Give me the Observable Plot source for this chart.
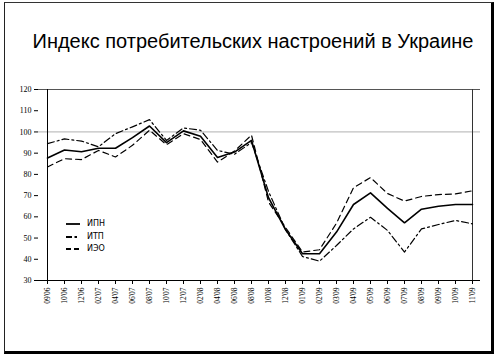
<!DOCTYPE html>
<html><head><meta charset="utf-8">
<script src="https://cdn.jsdelivr.net/npm/d3@7"></script>
<script src="https://cdn.jsdelivr.net/npm/@observablehq/plot@0.6"></script>
<style>
html,body{margin:0;padding:0;background:#fff;}
#wrap{position:relative;width:500px;height:359px;overflow:hidden;background:#fff;}
#frame{position:absolute;left:4px;top:2px;width:486px;height:348px;border-left:1.5px solid #222;border-top:1px solid #333;border-right:3px solid #000;border-bottom:3px solid #000;}
#title{position:absolute;left:0;width:506px;top:30px;text-align:center;font-family:"Liberation Sans",Arial,sans-serif;font-size:20px;color:#000;white-space:nowrap;}
#chart{position:absolute;left:0;top:0;}
#legend{position:absolute;left:66px;top:218px;font-family:"DejaVu Sans",sans-serif;font-size:8px;color:#000;line-height:12.6px;}
#legend div{display:flex;align-items:center;height:12.6px;}
#legend svg{margin-right:7px;}
</style>
</head><body>
<div id="wrap">
  <div id="frame"></div>
  <div id="chart"></div>
  <div id="title">Индекс потребительских настроений в Украине</div>
  <div id="legend"></div>
</div>
<script>
const labels = ["09'06","10'06","12'06","02'07","04'07","06'07","08'07","10'07","12'07","02'08","04'08","06'08","08'08","10'08","12'08","01'09","02'09","03'09","04'09","05'09","06'09","07'09","08'09","09'09","10'09","11'09"];
const ipn = [87.7,91.5,90.7,92.3,92.3,97.3,102.8,95,100.5,98,88,90.5,96,69,54,42.6,42.6,52.8,65.8,71.3,64,57.2,63.6,65,65.8,65.8];
const itp = [94.5,96.7,95.7,93,99.2,102.4,105.8,96,101.9,100.8,91.3,89.5,95,72,54,41.3,39.1,46.5,54.3,59.8,53.6,43.4,54.3,56.4,58.3,56.7];
const ieo = [83.5,87.4,87,91.3,88.2,93.7,100.8,94,99.2,96.4,85.8,91,98.5,67,55,43.4,44.5,57,73.7,78.5,71,67.4,69.6,70.5,70.8,72.3];
const yTicks = [30,40,50,60,70,80,90,100,110,120];
const seriesNames = ["ИПН","ИТП","ИЭО"];
const dashes = [null,"7,3,2,3","6,4"];
const widths = [1.6,1.2,1.2];

const rows = labels.map((t,i)=>({t, ipn:ipn[i], itp:itp[i], ieo:ieo[i]}));
const keys = ["ipn","itp","ieo"];

const chart = Plot.plot({
  width:500, height:359,
  marginLeft:38, marginRight:20, marginTop:89, marginBottom:79,
  x:{type:"point", domain:labels, padding:0},
  y:{domain:[30,120]},
  style:{background:"transparent", fontFamily:"Liberation Serif, Times New Roman, serif", fontSize:"8px", color:"#000"},
  marks:[
    Plot.ruleY([100],{stroke:"#c0c0c0", strokeWidth:1.2}),
    Plot.ruleY([120],{stroke:"#555"}),
    Plot.ruleX([labels[labels.length-1]],{stroke:"#333"}),
    Plot.axisY({ticks:yTicks, tickSize:4, tickPadding:3, fontSize:8, label:null}),
    Plot.axisX({tickSize:4, tickRotate:-90, tickPadding:3, fontSize:7.5, label:null}),
    Plot.ruleY([30],{stroke:"#000"}),
    Plot.ruleX([labels[0]],{stroke:"#000"}),
    ...keys.map((k,i)=>Plot.line(rows,{x:"t", y:k, stroke:"#000", strokeWidth:widths[i], strokeDasharray:dashes[i]}))
  ]
});
document.getElementById("chart").appendChild(chart);

const leg = document.getElementById("legend");
seriesNames.forEach((n,i)=>{
  const d = document.createElement("div");
  d.innerHTML = `<svg width="14" height="4"><line x1="0" y1="2" x2="14" y2="2" stroke="#000" stroke-width="1.8" ${dashes[i]?`stroke-dasharray="${i===1?'6,2.5,2.5,3':'5,3'}"`:''}/></svg><span>${n}</span>`;
  leg.appendChild(d);
});
</script>
</body></html>
